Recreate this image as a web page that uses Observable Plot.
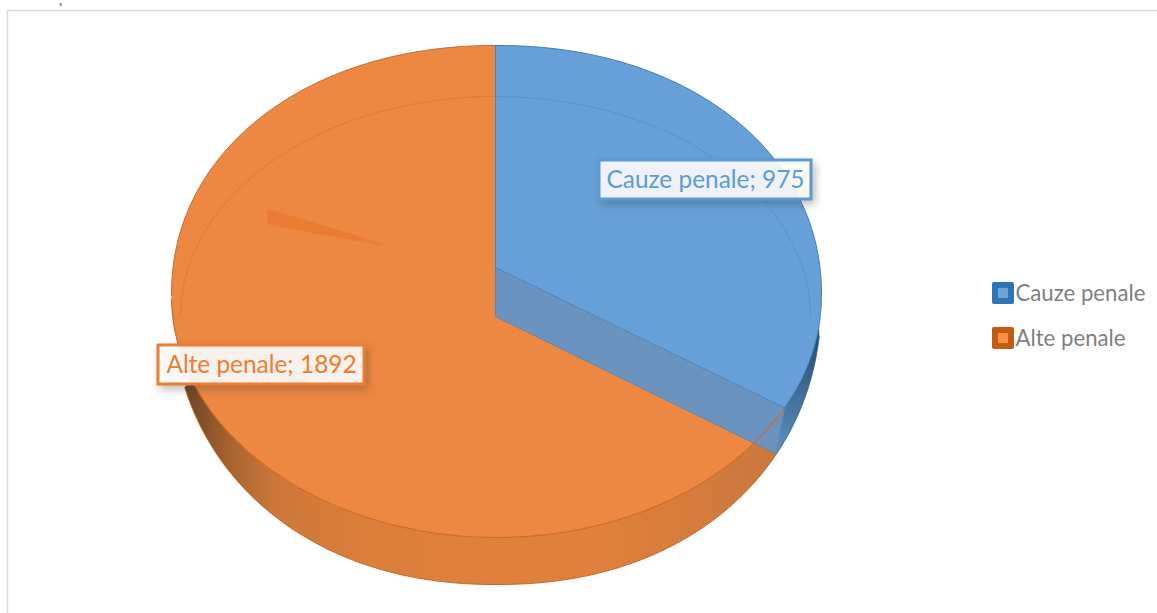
<!DOCTYPE html>
<html>
<head>
<meta charset="utf-8">
<script src="https://cdn.jsdelivr.net/npm/d3@7"></script>
<script src="https://cdn.jsdelivr.net/npm/@observablehq/plot@0.6"></script>
<style>html,body{margin:0;padding:0;background:#fff;overflow:hidden}svg{display:block}</style>
</head>
<body>
<div id="chart"></div>
<script>
const categories = ["Cauze penale", "Alte penale"];
const values = [975, 1892];
const sliceColors = ["#67a0d8", "#ec8841"];
const edgeColors = ["#3f7bb5", "#c9662a"];
const labelColors = ["#5b9bd5", "#ed7d31"];
const legendColors = ["#2e75b6", "#c55a11"];
const legendInner = ["#6fa3d8", "#f4914f"];

const W = 1157, H = 613;
// projected shape of the tilted disc
const cx = 496, cy = 295, rx = 325;
const backRy = 250, faceRy = 242, baseRy = 289;
const toRad = Math.PI / 180;
const sweep = 360 * values[0] / d3.sum(values);   // angle from the data

function pt(t, ry, n, ox = cx, oy = cy, r = rx) {
  const a = t * toRad, s = Math.sin(a), c = Math.cos(a), e = 2 / n;
  return {x: ox + r * Math.sign(s) * Math.abs(s) ** e, y: oy - ry * Math.sign(c) * Math.abs(c) ** e};
}
function arc(t0, t1, ry, n, ox, oy, r) {
  const out = [], k = 180;
  for (let i = 0; i <= k; i++) out.push(pt(t0 + (t1 - t0) * i / k, ry, n, ox, oy, r));
  return out;
}

const topT = sweep - 4.8, baseT = sweep - 0.8;
const apexTop = {x: cx - 1, y: cy - 28}, apexBase = {x: cx - 1, y: cy + 21};
const topOfDisc = {x: cx - 1, y: cy - backRy};
const cornerTop = pt(topT, faceRy, 2), cornerBase = pt(baseT, baseRy, 2.15);

// the orange face runs under the wall, so no seam shows along the wall's foot
const frontRim = arc(topT, 270, faceRy, 2);
const slope = (cornerBase.y - apexBase.y) / (cornerBase.x - apexBase.x);
const below = p => p.y >= apexBase.y + slope * (p.x - apexBase.x);
const firstBelow = frontRim.findIndex(below);
const rimVisible = frontRim.slice(Math.max(0, firstBelow - 3));

const blueFace = [
  topOfDisc,
  ...arc(0, 90, backRy, 2.1),
  ...arc(90, topT, faceRy, 2),
  apexTop
];
const orangeFace = [
  topOfDisc,
  ...arc(360, 270, backRy, 2.1),
  ...rimVisible.slice().reverse(),
  apexBase
];
const wall = [apexTop, cornerTop, cornerBase, apexBase];
const blueSide = [...arc(97, baseT, baseRy, 2.15), ...arc(topT, 97, faceRy, 2)];
const orangeSide = [...arc(baseT, 253, baseRy, 2.15), ...arc(250, topT, faceRy, 2)];
const innerBlue = arc(0, 90, 220, 2, cx - 1, cy + 21, 315);
const innerOrange = arc(360, 270, 220, 2, cx - 1, cy + 21, 315);
const sliver = [
  {x: cx - 229, y: cy - 87}, {x: cx - 114, y: cy - 52},
  {x: cx - 114, y: cy - 50}, {x: cx - 229, y: cy - 71}
];

const labels = [
  {t: `${categories[0]}; ${values[0]}`, x1: 599, x2: 811, y1: 160, y2: 199, c: labelColors[0]},
  {t: `${categories[1]}; ${values[1]}`, x1: 158, x2: 364, y1: 345, y2: 384, c: labelColors[1]}
];
const legend = categories.map((c, i) => ({c, y: 293 + i * 45, fill: legendColors[i], inner: legendInner[i]}));

const xy = {x: "x", y: "y"};
function defs() {
  const d = d3.create("svg:defs");
  const mk = (id, x1, x2, y1, y2, stops) => {
    const g = d.append("linearGradient").attr("id", id).attr("gradientUnits", "userSpaceOnUse")
      .attr("x1", x1).attr("x2", x2).attr("y1", y1).attr("y2", y2);
    stops.forEach(([o, c]) => g.append("stop").attr("offset", o).attr("stop-color", c));
  };
  mk("sideO", 185, 780, 0, 0, [[0, "#6b4526"], [0.07, "#a5622e"], [0.15, "#cb783a"], [0.32, "#dd7f3c"], [0.7, "#e0803c"], [1, "#c9783e"]]);
  mk("sideB", 776, 820, 450, 330, [[0, "#5e8fc0"], [0.5, "#3f6c98"], [1, "#264a6d"]]);
  return d.node();
}

const chart = Plot.plot({
  width: W, height: H,
  margin: 0,
  style: {background: "#fff"},
  x: {domain: [0, W], range: [0, W], axis: null},
  y: {domain: [0, H], range: [0, H], axis: null},
  marks: [
    defs,
    Plot.ruleY([10], {x1: 7, x2: W, stroke: "#d9d9d9", strokeWidth: 1.5}),
    Plot.ruleX([7], {y1: 10, y2: H, stroke: "#d9d9d9", strokeWidth: 1.5}),
    Plot.text(["g"], {x: 60, y: 1, fontFamily: "Liberation Serif", fontSize: 5, fill: "#000", lineAnchor: "top"}),

    Plot.line(orangeSide, {...xy, fill: "url(#sideO)", stroke: "none"}),
    Plot.line(arc(baseT, 253, baseRy, 2.15), {...xy, stroke: edgeColors[1], strokeWidth: 1}),
    Plot.line(blueSide, {...xy, fill: "url(#sideB)", stroke: "none"}),
    Plot.line(arc(97, baseT, baseRy, 2.15), {...xy, stroke: "#2f5f8e", strokeWidth: 1}),

    Plot.line(orangeFace, {...xy, fill: sliceColors[1], stroke: "none"}),
    Plot.line(blueFace, {...xy, fill: sliceColors[0], stroke: "none"}),
    Plot.line(wall, {...xy, fill: "#6a94bf", stroke: "none"}),

    Plot.line(innerOrange, {...xy, stroke: "#e07a35", strokeWidth: 1}),
    Plot.line(innerBlue, {...xy, stroke: "#5a93cc", strokeWidth: 1}),
    Plot.line(sliver, {...xy, fill: "#ea7c33", stroke: "none"}),

    Plot.line(arc(360, 270, backRy, 2.1), {...xy, stroke: edgeColors[1], strokeWidth: 1}),
    Plot.line(arc(0, 90, backRy, 2.1), {...xy, stroke: edgeColors[0], strokeWidth: 1}),
    Plot.line(arc(90, topT, faceRy, 2), {...xy, stroke: edgeColors[0], strokeWidth: 1}),
    Plot.line(frontRim.slice(0, -1), {...xy, stroke: "#cf6b28", strokeWidth: 1.2}),
    Plot.line([topOfDisc, apexTop, cornerTop], {...xy, stroke: "#4a83bb", strokeWidth: 1}),
    Plot.line([apexTop, apexBase, cornerBase, cornerTop], {...xy, stroke: "#5b87b5", strokeWidth: 1}),

    Plot.rect(labels, {x1: "x1", x2: "x2", y1: "y1", y2: "y2", fill: "#fff", fillOpacity: 0.9, stroke: "c", strokeWidth: 3,
      imageFilter: "drop-shadow(3px 4px 4px rgba(60,60,60,0.35))"}),
    Plot.text(labels, {x: d => (d.x1 + d.x2) / 2, y: d => (d.y1 + d.y2) / 2, text: "t", fill: "c", fontFamily: "Lato", fontSize: 24.4}),

    Plot.rect(legend, {x1: 992, x2: 1014, y1: d => d.y - 11, y2: d => d.y + 11, fill: "fill", rx: 2}),
    Plot.rect(legend, {x1: 998, x2: 1008, y1: d => d.y - 5, y2: d => d.y + 5, fill: "inner"}),
    Plot.text(legend, {x: 1015, y: "y", text: "c", textAnchor: "start", fill: "#7f7f7f", fontFamily: "Lato", fontSize: 22.2})
  ]
});
document.getElementById("chart").appendChild(chart);
</script>
</body>
</html>
